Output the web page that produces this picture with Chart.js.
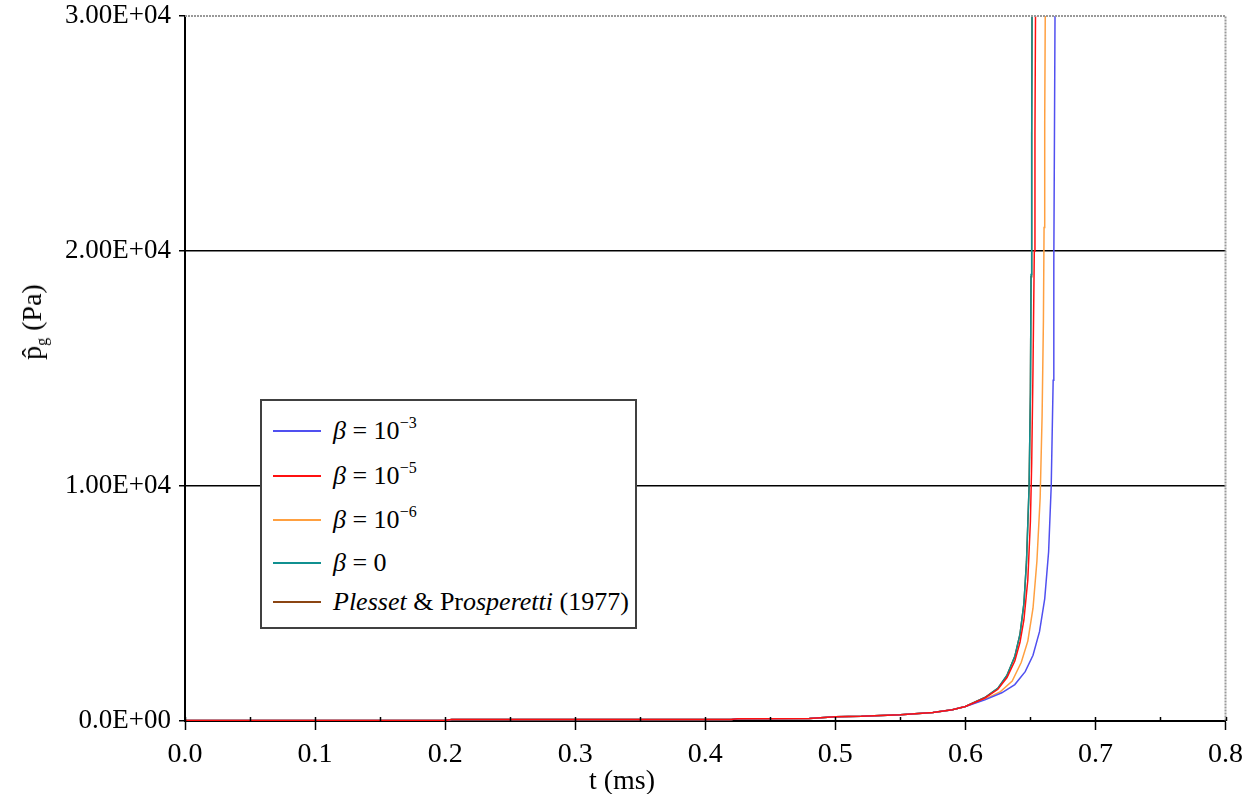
<!DOCTYPE html>
<html>
<head>
<meta charset="utf-8">
<script src="https://cdn.jsdelivr.net/npm/chart.js@4/dist/chart.umd.min.js"></script>
<style>
  body { margin: 0; background: #fff; }
  #wrap { position: relative; width: 1251px; height: 794px; font-family: "Liberation Serif", "DejaVu Serif", serif; }
  #legend { position: absolute; left: 260px; top: 399px; width: 373px; height: 226px; border: 2px solid #404040; background: #fff; }
  .row { position: absolute; left: 0; height: 30px; font-size: 26px; line-height: 30px; white-space: nowrap; }
  .sw { position: absolute; left: 11px; top: 14px; width: 48px; height: 0; border-top: 2px solid; }
  .lab { position: absolute; left: 71px; top: 0; }
  .lab sup { font-size: 16px; vertical-align: 11px; line-height: 0; }
  #ytitle { position: absolute; left: 32px; top: 322px; transform: translate(-50%, -50%) rotate(-90deg); font-size: 28px; white-space: nowrap; }
  #ytitle sub { font-size: 16px; vertical-align: -6px; line-height: 0; }
  #xtitle { position: absolute; left: 622px; top: 764px; transform: translateX(-50%); font-size: 28px; white-space: nowrap; }
</style>
</head>
<body>
<div id="wrap">
  <canvas id="chart" width="1251" height="794"></canvas>
  <div id="legend"></div>
  <div id="ytitle">p&#770;<sub>g</sub> (Pa)</div>
  <div id="xtitle">t (ms)</div>
</div>
<script>
// early part, all curves sit on top of each other here
var tBase = [0, 0.2, 0.205, 0.42, 0.425, 0.48, 0.5, 0.52, 0.55, 0.575, 0.59, 0.6];
var pBase = [20, 20, 60, 60, 100, 110, 180, 200, 270, 360, 480, 620];

// beta = 1e-3
var tBeta3 = [0.615, 0.628, 0.638, 0.646, 0.652, 0.657, 0.661, 0.664, 0.666, 0.6675, 0.668, 0.6685, 0.669];
var pBeta3 = [900, 1200, 1550, 2100, 2800, 3800, 5200, 7200, 10000, 14500, 19500, 25000, 31000];
// beta = 1e-5
var tBeta5 = [0.615, 0.625, 0.632, 0.638, 0.642, 0.645, 0.648, 0.65, 0.651, 0.652, 0.653, 0.6535, 0.654];
var pBeta5 = [980, 1350, 1850, 2550, 3350, 4300, 6000, 8500, 11000, 15000, 20000, 25000, 31000];
// beta = 1e-6
var tBeta6 = [0.615, 0.627, 0.636, 0.643, 0.648, 0.652, 0.655, 0.6575, 0.659, 0.66, 0.6605, 0.661, 0.6615];
var pBeta6 = [930, 1250, 1700, 2500, 3400, 4800, 6800, 9500, 13000, 17000, 21000, 25500, 31000];
// beta = 0
var tBeta0 = [0.615, 0.625, 0.632, 0.638, 0.642, 0.645, 0.647, 0.649, 0.65, 0.6505, 0.651, 0.6513];
var pBeta0 = [1000, 1400, 1950, 2750, 3700, 5000, 6800, 10000, 14000, 19000, 25000, 31000];
// Plesset & Prosperetti (1977)
var tPP = [0.615, 0.625, 0.632, 0.638, 0.642, 0.645, 0.647, 0.649, 0.65, 0.6505, 0.651, 0.6513];
var pPP = [1000, 1390, 1940, 2740, 3690, 4980, 6780, 9950, 13900, 18900, 24900, 31000];

var xTicks = [0, 0.1, 0.2, 0.3, 0.4, 0.5, 0.6, 0.7, 0.8];
var yTicks = [0, 10000, 20000, 30000];
var yTickLabels = ["0.0E+00", "1.00E+04", "2.00E+04", "3.00E+04"];

var seriesNames = ["\u03b2 = 10^-3", "\u03b2 = 10^-5", "\u03b2 = 10^-6", "\u03b2 = 0", "Plesset & Prosperetti (1977)"];
var seriesColors = ["#5050f0", "#ff1010", "#ffa040", "#109090", "#8b4513"];

function pts(t, p) {
  var all = tBase.concat(t), vals = pBase.concat(p);
  return all.map(function (x, i) { return { x: x, y: vals[i] }; });
}
var series = [pts(tBeta3, pBeta3), pts(tBeta5, pBeta5), pts(tBeta6, pBeta6), pts(tBeta0, pBeta0), pts(tPP, pPP)];

var font = { family: "'Liberation Serif', serif", size: 27 };

// dotted frame on top/right, small minor ticks on the x axis
var framePlugin = {
  id: "frame",
  afterDraw: function (chart) {
    var a = chart.chartArea, ctx = chart.ctx, xs = chart.scales.x;
    ctx.save();
    ctx.strokeStyle = "#999";
    ctx.lineWidth = 2;
    ctx.setLineDash([2, 1]);
    ctx.beginPath();
    ctx.moveTo(a.left, a.top);
    ctx.lineTo(a.right, a.top);
    ctx.lineTo(a.right, a.bottom);
    ctx.stroke();
    ctx.setLineDash([]);
    ctx.strokeStyle = "#000";
    ctx.lineWidth = 1.5;
    ctx.beginPath();
    for (var v = 0; v <= 0.8001; v += 0.05) {
      var px = Math.round(xs.getPixelForValue(v)) + 0.5;
      ctx.moveTo(px, a.bottom);
      ctx.lineTo(px, a.bottom - 4);
    }
    ctx.stroke();
    ctx.restore();
  }
};

new Chart(document.getElementById("chart"), {
  type: "line",
  data: {
    datasets: series.map(function (d, i) {
      return {
        label: seriesNames[i],
        data: d,
        borderColor: seriesColors[i],
        borderWidth: 1.5,
        pointRadius: 0,
        tension: 0,
        fill: false,
        order: i === 1 ? 0 : i + 1
      };
    })
  },
  options: {
    responsive: false,
    animation: false,
    devicePixelRatio: 1,
    layout: { padding: { left: 0, right: 24, top: 16, bottom: 0 } },
    plugins: { legend: { display: false }, tooltip: { enabled: false } },
    scales: {
      x: {
        type: "linear",
        min: 0,
        max: 0.8,
        afterBuildTicks: function (s) { s.ticks = xTicks.map(function (v) { return { value: v }; }); },
        afterFit: function (s) { s.height = 73; },
        ticks: {
          color: "#000",
          font: { family: "'Liberation Serif', serif", size: 28 },
          padding: 8,
          maxRotation: 0,
          callback: function (v) { return v.toFixed(1); }
        },
        grid: { drawOnChartArea: false, color: "#000", tickLength: 9, tickWidth: 1.5 },
        border: { color: "#000", width: 2 }
      },
      y: {
        type: "linear",
        min: 0,
        max: 30000,
        afterBuildTicks: function (s) { s.ticks = yTicks.map(function (v) { return { value: v }; }); },
        afterFit: function (s) { s.width = 185; s.paddingTop = 0; s.paddingBottom = 0; },
        ticks: {
          color: "#000",
          font: font,
          padding: 8,
          callback: function (v) { return yTickLabels[yTicks.indexOf(v)]; }
        },
        grid: {
          color: function (c) { return (c.tick && (c.tick.value === 10000 || c.tick.value === 20000)) ? "#000" : "rgba(0,0,0,0)"; },
          lineWidth: 1.5,
          tickColor: "#000",
          tickLength: 6
        },
        border: { color: "#000", width: 2 }
      }
    }
  },
  plugins: [framePlugin]
});

// legend drawn as html so superscripts and italics stay real text
var legend = document.getElementById("legend");
var rowTops = [15, 60, 104, 147, 186];
var labelsHtml = [
  "<i>\u03b2</i> = 10<sup>\u22123</sup>",
  "<i>\u03b2</i> = 10<sup>\u22125</sup>",
  "<i>\u03b2</i> = 10<sup>\u22126</sup>",
  "<i>\u03b2</i> = 0",
  "<i>Plesset</i> &amp; Pr<i>osperetti</i> (1977)"
];
labelsHtml.forEach(function (h, i) {
  var row = document.createElement("div");
  row.className = "row";
  row.style.top = rowTops[i] + "px";
  row.innerHTML = '<span class="sw" style="border-color:' + seriesColors[i] + '"></span><span class="lab">' + h + "</span>";
  legend.appendChild(row);
});
</script>
</body>
</html>
